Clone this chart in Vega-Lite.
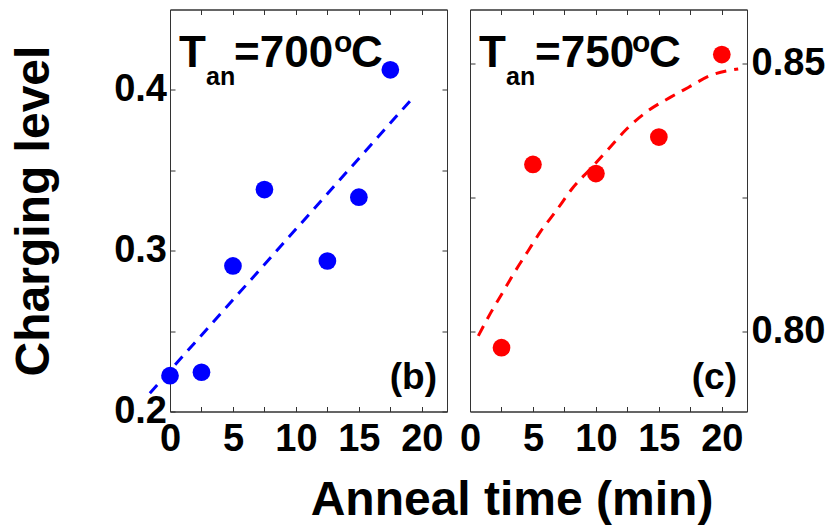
{
  "$schema": "https://vega.github.io/schema/vega-lite/v6.json",
  "background": "white",
  "padding": {"left": 9, "top": 8.5, "right": 5, "bottom": 5},
  "spacing": 23,
  "bounds": "flush",
  "config": {
    "font": "Liberation Sans",
    "view": {"stroke": "#333", "strokeWidth": 1},
    "axis": {
      "grid": false,
      "domainColor": "#333",
      "tickColor": "#333",
      "tickSize": -5,
      "labelFont": "Liberation Sans",
      "labelFontWeight": "bold",
      "labelFontSize": 38,
      "labelColor": "black",
      "labelFlush": false,
      "labelOverlap": false,
      "titleFont": "Liberation Sans",
      "titleFontWeight": "bold",
      "titleFontSize": 48,
      "titleColor": "black"
    },
    "text": {"font": "Liberation Sans", "fontWeight": "bold", "color": "black"}
  },
  "datasets": {
    "b_points": [
      {"t": 0, "level": 0.2223},
      {"t": 2.5, "level": 0.2244},
      {"t": 5, "level": 0.2905},
      {"t": 7.5, "level": 0.338},
      {"t": 12.5, "level": 0.2936},
      {"t": 15, "level": 0.3333},
      {"t": 17.5, "level": 0.4125}
    ],
    "b_fit": [
      {"t": -1.6, "level": 0.2114},
      {"t": 19.2, "level": 0.3943}
    ],
    "c_points": [
      {"t": 2.5, "level": 0.7969},
      {"t": 5, "level": 0.8311},
      {"t": 10, "level": 0.8294},
      {"t": 15, "level": 0.8362},
      {"t": 20, "level": 0.8516}
    ],
    "c_fit": [
      {"t": 0.66, "level": 0.7991},
      {"t": 1.64, "level": 0.8034},
      {"t": 2.57, "level": 0.8071},
      {"t": 3.49, "level": 0.8108},
      {"t": 4.6, "level": 0.8149},
      {"t": 5.61, "level": 0.8186},
      {"t": 6.8, "level": 0.8223},
      {"t": 8.12, "level": 0.8266},
      {"t": 9.7, "level": 0.8306},
      {"t": 11.16, "level": 0.8344},
      {"t": 12.48, "level": 0.8378},
      {"t": 14.2, "level": 0.8412},
      {"t": 15.9, "level": 0.8436},
      {"t": 17.37, "level": 0.8455},
      {"t": 19.1, "level": 0.8477},
      {"t": 21.3, "level": 0.8489}
    ]
  },
  "hconcat": [
    {
      "width": 277,
      "height": 402,
      "resolve": {"axis": {"x": "independent", "y": "independent"}},
      "layer": [
        {
          "data": {"name": "b_fit"},
          "mark": {"type": "line", "color": "#0000FF", "strokeWidth": 3, "strokeDash": [11, 8], "clip": false},
          "encoding": {
            "x": {"field": "t", "type": "quantitative", "scale": {"domain": [0, 22], "nice": false, "zero": false},
              "axis": {"orient": "top", "values": [0, 2.5, 5, 7.5, 10, 12.5, 15, 17.5, 20], "labels": false, "title": null}},
            "y": {"field": "level", "type": "quantitative", "scale": {"domain": [0.2, 0.45], "nice": false, "zero": false},
              "axis": {"orient": "right", "values": [0.2, 0.25, 0.3, 0.35, 0.4], "labels": false, "title": null}}
          }
        },
        {
          "data": {"name": "b_points"},
          "mark": {"type": "circle", "color": "#0000FF", "opacity": 1, "size": 314},
          "encoding": {
            "x": {"field": "t", "type": "quantitative", "scale": {"domain": [0, 22], "nice": false, "zero": false},
              "axis": {"orient": "bottom", "values": [0, 2.5, 5, 7.5, 10, 12.5, 15, 17.5, 20], "format": ".1~f",
                "labelExpr": "datum.value % 5 == 0 ? datum.label : ''", "labelPadding": 14,
                "title": "Anneal time (min)", "titleX": 341.5, "titleY": 103, "titleAlign": "center", "titleBaseline": "alphabetic"}},
            "y": {"field": "level", "type": "quantitative", "scale": {"domain": [0.2, 0.45], "nice": false, "zero": false},
              "axis": {"orient": "left", "values": [0.2, 0.25, 0.3, 0.35, 0.4], "format": ".2~f",
                "labelExpr": "length(datum.label) <= 3 ? datum.label : ''", "labelPadding": 8.5,
                "title": "Charging level", "titleX": -121.5, "titleY": 201, "titleAlign": "center", "titleBaseline": "alphabetic", "titleAngle": -90}}
          }
        },
        {"data": {"values": [{}]}, "mark": {"type": "text", "text": "T", "fontSize": 44, "align": "left", "baseline": "alphabetic", "dx": 9, "dy": 57.4},
          "encoding": {"x": {"datum": 0, "type": "quantitative", "axis": null}, "y": {"datum": 0.45, "type": "quantitative", "axis": null}}},
        {"data": {"values": [{}]}, "mark": {"type": "text", "text": "an", "fontSize": 25, "align": "left", "baseline": "alphabetic", "dx": 36, "dy": 75.5},
          "encoding": {"x": {"datum": 0, "type": "quantitative", "axis": null}, "y": {"datum": 0.45, "type": "quantitative", "axis": null}}},
        {"data": {"values": [{}]}, "mark": {"type": "text", "text": "=700", "fontSize": 44, "align": "left", "baseline": "alphabetic", "dx": 64, "dy": 57.4},
          "encoding": {"x": {"datum": 0, "type": "quantitative", "axis": null}, "y": {"datum": 0.45, "type": "quantitative", "axis": null}}},
        {"data": {"values": [{}]}, "mark": {"type": "text", "text": "o", "fontSize": 30, "align": "left", "baseline": "alphabetic", "dx": 164, "dy": 42.5},
          "encoding": {"x": {"datum": 0, "type": "quantitative", "axis": null}, "y": {"datum": 0.45, "type": "quantitative", "axis": null}}},
        {"data": {"values": [{}]}, "mark": {"type": "text", "text": "C", "fontSize": 44, "align": "left", "baseline": "alphabetic", "dx": 181, "dy": 57.4},
          "encoding": {"x": {"datum": 0, "type": "quantitative", "axis": null}, "y": {"datum": 0.45, "type": "quantitative", "axis": null}}},
        {"data": {"values": [{}]}, "mark": {"type": "text", "text": "(b)", "fontSize": 37, "align": "right", "baseline": "alphabetic", "dx": -10, "dy": -23},
          "encoding": {"x": {"datum": 22, "type": "quantitative", "axis": null}, "y": {"datum": 0.2, "type": "quantitative", "axis": null}}}
      ]
    },
    {
      "width": 277,
      "height": 402,
      "resolve": {"axis": {"x": "independent", "y": "independent"}},
      "layer": [
        {
          "data": {"name": "c_fit"},
          "mark": {"type": "line", "color": "#FF0000", "strokeWidth": 3, "strokeDash": [11, 8], "interpolate": "monotone", "clip": false},
          "encoding": {
            "x": {"field": "t", "type": "quantitative", "scale": {"domain": [0, 22], "nice": false, "zero": false},
              "axis": {"orient": "top", "values": [0, 2.5, 5, 7.5, 10, 12.5, 15, 17.5, 20], "labels": false, "title": null}},
            "y": {"field": "level", "type": "quantitative", "scale": {"domain": [0.785, 0.86], "nice": false, "zero": false},
              "axis": {"orient": "left", "values": [0.8, 0.825, 0.85], "labels": false, "title": null}}
          }
        },
        {
          "data": {"name": "c_points"},
          "mark": {"type": "circle", "color": "#FF0000", "opacity": 1, "size": 314},
          "encoding": {
            "x": {"field": "t", "type": "quantitative", "scale": {"domain": [0, 22], "nice": false, "zero": false},
              "axis": {"orient": "bottom", "values": [0, 2.5, 5, 7.5, 10, 12.5, 15, 17.5, 20], "format": ".1~f",
                "labelExpr": "datum.value % 5 == 0 ? datum.label : ''", "labelPadding": 14, "title": null}},
            "y": {"field": "level", "type": "quantitative", "scale": {"domain": [0.785, 0.86], "nice": false, "zero": false},
              "axis": {"orient": "right", "values": [0.8, 0.825, 0.85], "format": ".2f",
                "labelExpr": "abs(datum.value - 0.825) < 0.001 ? '' : datum.label", "labelPadding": 9, "title": null}}
          }
        },
        {"data": {"values": [{}]}, "mark": {"type": "text", "text": "T", "fontSize": 44, "align": "left", "baseline": "alphabetic", "dx": 9, "dy": 57.4},
          "encoding": {"x": {"datum": 0, "type": "quantitative", "axis": null}, "y": {"datum": 0.86, "type": "quantitative", "axis": null}}},
        {"data": {"values": [{}]}, "mark": {"type": "text", "text": "an", "fontSize": 25, "align": "left", "baseline": "alphabetic", "dx": 36, "dy": 75.5},
          "encoding": {"x": {"datum": 0, "type": "quantitative", "axis": null}, "y": {"datum": 0.86, "type": "quantitative", "axis": null}}},
        {"data": {"values": [{}]}, "mark": {"type": "text", "text": "=750", "fontSize": 44, "align": "left", "baseline": "alphabetic", "dx": 65, "dy": 57.4},
          "encoding": {"x": {"datum": 0, "type": "quantitative", "axis": null}, "y": {"datum": 0.86, "type": "quantitative", "axis": null}}},
        {"data": {"values": [{}]}, "mark": {"type": "text", "text": "o", "fontSize": 30, "align": "left", "baseline": "alphabetic", "dx": 162, "dy": 42.5},
          "encoding": {"x": {"datum": 0, "type": "quantitative", "axis": null}, "y": {"datum": 0.86, "type": "quantitative", "axis": null}}},
        {"data": {"values": [{}]}, "mark": {"type": "text", "text": "C", "fontSize": 44, "align": "left", "baseline": "alphabetic", "dx": 179, "dy": 57.4},
          "encoding": {"x": {"datum": 0, "type": "quantitative", "axis": null}, "y": {"datum": 0.86, "type": "quantitative", "axis": null}}},
        {"data": {"values": [{}]}, "mark": {"type": "text", "text": "(c)", "fontSize": 37, "align": "right", "baseline": "alphabetic", "dx": -10, "dy": -23},
          "encoding": {"x": {"datum": 22, "type": "quantitative", "axis": null}, "y": {"datum": 0.785, "type": "quantitative", "axis": null}}}
      ]
    }
  ]
}
